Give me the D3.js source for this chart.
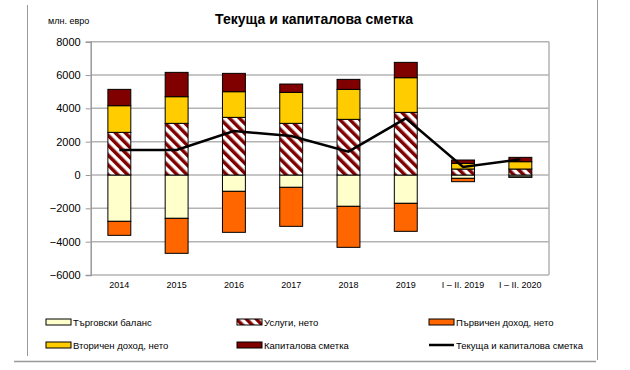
<!DOCTYPE html>
<html>
<head>
<meta charset="utf-8">
<script src="https://cdn.jsdelivr.net/npm/d3@7"></script>
<style>
  body { margin: 0; background: #fff; }
  svg { font-family: Arial, "Liberation Sans", sans-serif; }
</style>
</head>
<body>
<div id="chart"></div>
<script>
var categories = ['2014', '2015', '2016', '2017', '2018', '2019', 'I – II. 2019', 'I – II. 2020'];
var trade     = [-2780, -2600, -980, -740, -1880, -1700, -200, -120];
var services  = [2560, 3100, 3460, 3100, 3340, 3760, 360, 360];
var primary   = [-840, -2100, -2460, -2340, -2460, -1680, -200, -20];
var secondary = [1600, 1600, 1540, 1860, 1800, 2080, 340, 440];
var capital   = [980, 1460, 1100, 500, 600, 920, 200, 260];
var balance   = [1500, 1500, 2640, 2340, 1400, 3400, 480, 940];
var yTicks = [-6000, -4000, -2000, 0, 2000, 4000, 6000, 8000];

var names = {
  trade: 'Търговски баланс',
  services: 'Услуги, нето',
  primary: 'Първичен доход, нето',
  secondary: 'Вторичен доход, нето',
  capital: 'Капиталова сметка',
  line: 'Текуща и капиталова сметка'
};
var colors = {
  trade: '#ffffcc',
  services: 'url(#hatch)',
  primary: '#ff6600',
  secondary: '#ffcc00',
  capital: '#800000'
};

// build rows for d3.stack
var rows = categories.map(function(c, i) {
  return { cat: c, trade: trade[i], services: services[i], primary: primary[i],
           secondary: secondary[i], capital: capital[i] };
});
var keys = ['trade', 'services', 'primary', 'secondary', 'capital'];
var series = d3.stack().keys(keys).offset(d3.stackOffsetDiverging)(rows);

var svg = d3.select('#chart').append('svg')
    .attr('width', 630)
    .attr('height', 370);

// hatch pattern for services (stripes going down to the right)
var pat = svg.append('defs').append('pattern')
    .attr('id', 'hatch')
    .attr('patternUnits', 'userSpaceOnUse')
    .attr('width', 7)
    .attr('height', 7)
    .attr('patternTransform', 'rotate(-45)');
pat.append('rect').attr('width', 7).attr('height', 7).attr('fill', '#fff');
pat.append('rect').attr('width', 3.5).attr('height', 7).attr('fill', '#800000');

// outer frame
svg.append('line').attr('x1', 27.5).attr('x2', 27.5).attr('y1', 5).attr('y2', 356)
    .attr('stroke', '#999');
svg.append('line').attr('x1', 597.5).attr('x2', 597.5).attr('y1', 0).attr('y2', 360)
    .attr('stroke', '#999');
svg.append('line').attr('x1', 14).attr('x2', 596).attr('y1', 361.5).attr('y2', 361.5)
    .attr('stroke', '#999').attr('stroke-width', 1.5);

var plotLeft = 90.7, plotRight = 549, plotTop = 41.7, plotBottom = 275;

var x = d3.scaleBand().domain(categories).range([plotLeft, plotRight])
    .paddingInner(0.6).paddingOuter(0.3);
var y = d3.scaleLinear().domain([-6000, 8000]).range([plotBottom, plotTop]);

// gridlines
svg.append('g').selectAll('line')
    .data(yTicks)
    .enter().append('line')
    .attr('x1', plotLeft).attr('x2', plotRight)
    .attr('y1', function(d) { return y(d); })
    .attr('y2', function(d) { return y(d); })
    .attr('stroke', '#b3b3b3')
    .attr('stroke-width', 1.5);

// plot border right side
svg.append('line').attr('x1', plotRight).attr('x2', plotRight).attr('y1', plotTop).attr('y2', plotBottom)
    .attr('stroke', '#b3b3b3').attr('stroke-width', 1.5);

// y axis
var yAxis = svg.append('g')
    .attr('transform', 'translate(' + plotLeft + ',0)')
    .call(d3.axisLeft(y).tickValues(yTicks).tickSize(5).tickPadding(5).tickFormat(d3.format('d')));
yAxis.select('.domain').attr('stroke', '#999').attr('stroke-width', 1.5);
yAxis.selectAll('.tick line').attr('stroke', '#999');
yAxis.selectAll('text').style('font-size', '11px').attr('fill', '#000');

// x axis labels (no line)
var xAxis = svg.append('g')
    .attr('transform', 'translate(0,' + plotBottom + ')')
    .call(d3.axisBottom(x).tickSize(0).tickPadding(7));
xAxis.select('.domain').remove();
xAxis.selectAll('text').style('font-size', '9px').attr('fill', '#000');

// bars
svg.append('g').selectAll('g')
    .data(series)
    .enter().append('g')
    .attr('fill', function(d) { return colors[d.key]; })
    .selectAll('rect')
    .data(function(d) { return d; })
    .enter().append('rect')
    .attr('x', function(d) { return x(d.data.cat); })
    .attr('width', x.bandwidth())
    .attr('y', function(d) { return y(d[1]); })
    .attr('height', function(d) { return Math.abs(y(d[0]) - y(d[1])); })
    .attr('stroke', '#000')
    .attr('stroke-width', 1);

// line
var line = d3.line()
    .x(function(d, i) { return x(categories[i]) + x.bandwidth() / 2; })
    .y(function(d) { return y(d); });
svg.append('path')
    .datum(balance)
    .attr('d', line)
    .attr('fill', 'none')
    .attr('stroke', '#000')
    .attr('stroke-width', 2.5);

// titles
svg.append('text')
    .attr('x', 314).attr('y', 24)
    .attr('text-anchor', 'middle')
    .style('font-size', '14px')
    .style('font-weight', 'bold')
    .text('Текуща и капиталова сметка');
svg.append('text')
    .attr('x', 48).attr('y', 24)
    .style('font-size', '9px')
    .text('млн. евро');

// legend
var legendItems = [
  { key: 'trade', x: 46, y: 322 },
  { key: 'services', x: 237, y: 322 },
  { key: 'primary', x: 429, y: 322 },
  { key: 'secondary', x: 46, y: 345 },
  { key: 'capital', x: 237, y: 345 },
  { key: 'line', x: 429, y: 345 }
];
var lg = svg.append('g').selectAll('g')
    .data(legendItems)
    .enter().append('g')
    .attr('transform', function(d) { return 'translate(' + d.x + ',' + d.y + ')'; });
lg.filter(function(d) { return d.key != 'line'; })
    .append('rect')
    .attr('x', 0).attr('y', -3)
    .attr('width', 25).attr('height', 6)
    .attr('fill', function(d) { return colors[d.key]; })
    .attr('stroke', '#000');
lg.filter(function(d) { return d.key == 'line'; })
    .append('line')
    .attr('x1', 0).attr('x2', 25).attr('y1', 0).attr('y2', 0)
    .attr('stroke', '#000').attr('stroke-width', 2.5);
lg.append('text')
    .attr('x', 27).attr('y', 3.5)
    .style('font-size', '9.5px')
    .text(function(d) { return names[d.key]; });
</script>
</body>
</html>
